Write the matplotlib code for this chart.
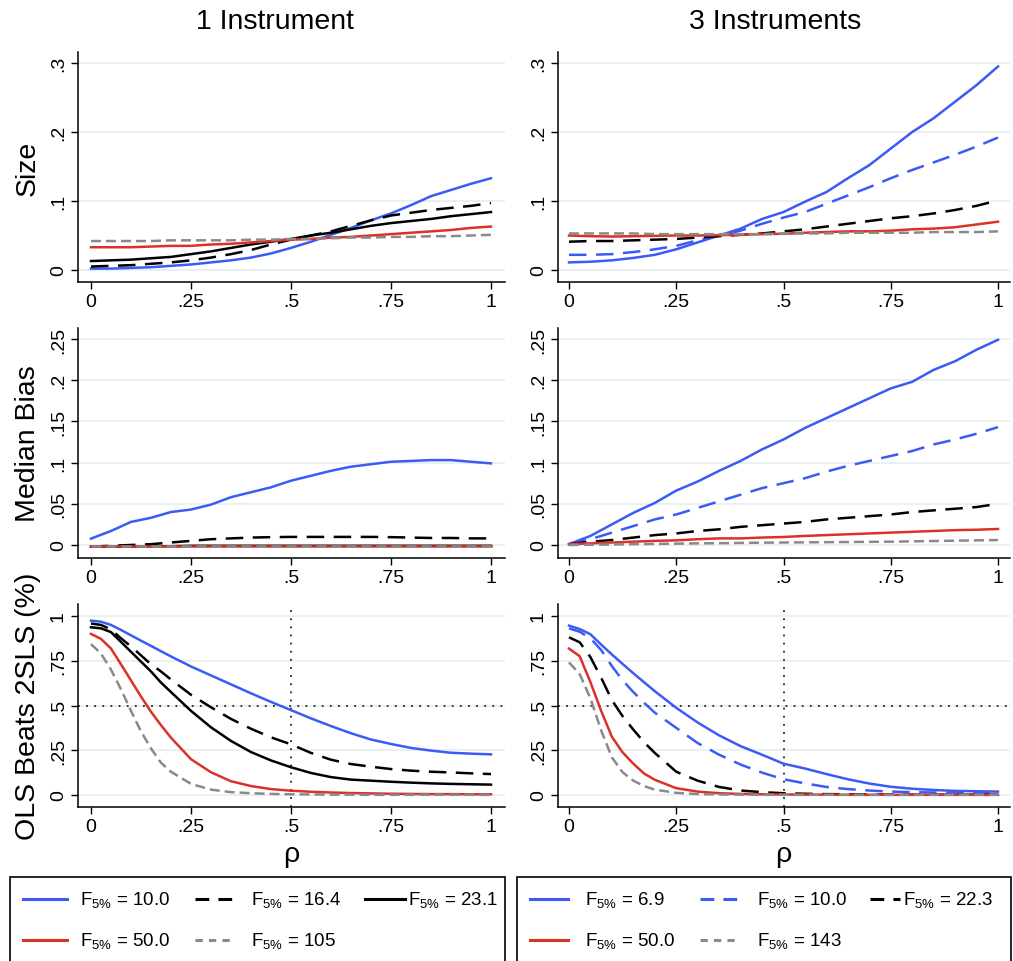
import matplotlib
matplotlib.use("Agg")
import matplotlib.pyplot as plt
from matplotlib.lines import Line2D
from matplotlib.patches import Rectangle

plt.rcParams["font.family"] = ["Liberation Sans", "DejaVu Sans"]
plt.rcParams["mathtext.fontset"] = "custom"
plt.rcParams["mathtext.rm"] = "Liberation Sans"
plt.rcParams["mathtext.it"] = "Liberation Sans:italic"

# ---- data ----
RHO = [0, .05, .1, .15, .2, .25, .3, .35, .4, .45, .5, .55, .6, .65, .7, .75, .8, .85, .9, .95, 1]
RHO_B = [0, .025, .05, .075, .1, .125, .15, .175, .2, .25, .3, .35, .4, .45, .5, .55, .6, .65, .7,
         .75, .8, .85, .9, .95, 1]

LAB_1 = ["10.0", "16.4", "23.1", "50.0", "105"]
LAB_3 = ["6.9", "10.0", "22.3", "50.0", "143"]

size1_f10 = [.002, .002, .003, .004, .006, .008, .011, .014, .018, .024, .032, .041, .051, .061, .072, .082, .094, .107, .116, .125, .133]
size1_f16 = [.005, .006, .007, .009, .011, .014, .018, .023, .029, .037, .044, .050, .056, .064, .072, .079, .083, .087, .090, .093, .097]
size1_f23 = [.013, .014, .015, .017, .019, .023, .027, .032, .037, .041, .045, .050, .054, .059, .064, .068, .071, .074, .078, .081, .084]
size1_f50 = [.033, .033, .033, .034, .035, .035, .037, .038, .040, .042, .044, .045, .047, .048, .050, .052, .054, .056, .058, .061, .063]
size1_f105 = [.042, .042, .042, .042, .043, .043, .043, .043, .044, .044, .045, .045, .046, .047, .047, .048, .048, .049, .049, .050, .051]

size3_f69 = [.011, .012, .014, .0175, .022, .030, .040, .050, .060, .074, .084, .099, .113, .133, .152, .176, .200, .220, .244, .268, .295]
size3_f10 = [.022, .022, .023, .026, .030, .035, .043, .050, .057, .067, .076, .084, .096, .108, .120, .133, .145, .156, .167, .179, .192]
size3_f22 = [.041, .042, .042, .043, .044, .045, .047, .049, .051, .053, .056, .059, .063, .067, .071, .075, .078, .082, .087, .093, .101]
size3_f50 = [.050, .049, .0485, .049, .0495, .050, .050, .0505, .051, .052, .0525, .054, .055, .056, .056, .057, .059, .060, .062, .066, .070]
size3_f143 = [.053, .053, .053, .053, .052, .052, .052, .052, .052, .052, .053, .053, .053, .054, .054, .054, .054, .055, .055, .055, .056]

bias1_f10 = [.0077, .017, .028, .033, .040, .043, .049, .058, .064, .070, .078, .084, .090, .095, .098, .101, .102, .103, .103, .101, .099]
bias1_f16 = [-.002, -.001, .000, .001, .003, .005, .007, .008, .009, .0095, .0098, .0098, .0098, .0098, .0098, .0095, .009, .0085, .0085, .008, .008]
bias1_f23 = [-.002, -.002, -.002, -.0015, -.0015, -.001, -.001, -.001, -.001, -.001, -.001, -.001, -.001, -.001, -.001, -.001, -.001, -.001, -.001, -.001, -.001]
bias1_f50 = [-.001, -.001, -.001, -.001, -.001, -.001, -.001, -.001, -.001, -.001, -.001, -.001, -.001, -.001, -.001, -.001, -.001, -.001, -.001, -.001, -.001]
bias1_f105 = [-.0008, -.0008, -.0008, -.0008, -.0008, -.0008, -.0008, -.0008, -.0008, -.0008, -.0008, -.0008, -.0008, -.0008, -.0008, -.0008, -.0008, -.0008, -.0008, -.0008, -.0008]

bias3_f69 = [.001, .011, .025, .039, .051, .066, .077, .090, .102, .116, .128, .142, .154, .166, .178, .190, .198, .2125, .223, .237, .249]
bias3_f10 = [.001, .007, .015, .023, .031, .037, .045, .053, .061, .069, .075, .081, .089, .096, .102, .108, .114, .122, .128, .135, .143]
bias3_f22 = [.001, .004, .006, .009, .012, .014, .017, .019, .022, .024, .026, .028, .031, .033, .035, .037, .040, .042, .044, .046, .050]
bias3_f50 = [.001, .002, .003, .004, .005, .0056, .007, .008, .008, .009, .0097, .011, .012, .013, .014, .015, .016, .017, .018, .0185, .0194]
bias3_f143 = [0, .0003, .0006, .001, .0013, .0016, .002, .0022, .0025, .0028, .003, .0032, .0034, .0036, .0038, .004, .0044, .0048, .0052, .0056, .006]

beat1_f10 = [.974, .968, .950, .922, .892, .862, .833, .803, .774, .718, .668, .618, .568, .520, .474, .428, .385, .345, .310, .285, .263, .248, .236, .231, .227]
beat1_f16 = [.958, .950, .925, .875, .83, .78, .73, .69, .645, .56, .49, .425, .370, .322, .283, .235, .197, .173, .158, .145, .136, .130, .126, .121, .117]
beat1_f23 = [.937, .931, .910, .855, .800, .745, .690, .628, .575, .470, .378, .302, .240, .193, .155, .123, .100, .086, .080, .074, .069, .065, .062, .060, .058]
beat1_f50 = [.900, .872, .818, .73, .64, .55, .465, .39, .32, .20, .127, .077, .050, .033, .024, .018, .014, .011, .009, .007, .006, .005, .005, .004, .004]
beat1_f105 = [.843, .79, .70, .59, .47, .355, .26, .18, .13, .062, .030, .016, .010, .006, .004, .003, .002, .002, .001, .001, .001, .001, .001, .001, .001]

beat3_f69 = [.946, .927, .898, .840, .785, .732, .680, .630, .580, .487, .405, .333, .273, .225, .175, .148, .117, .088, .064, .046, .035, .028, .023, .021, .019]
beat3_f10 = [.931, .912, .875, .81, .72, .64, .575, .515, .46, .375, .29, .225, .17, .125, .088, .065, .045, .033, .025, .019, .016, .014, .013, .012, .012]
beat3_f22 = [.881, .853, .77, .655, .53, .44, .365, .295, .235, .13, .080, .045, .025, .016, .010, .007, .005, .004, .003, .003, .002, .002, .002, .002, .002]
beat3_f50 = [.818, .775, .63, .47, .325, .238, .175, .12, .085, .038, .019, .010, .006, .004, .003, .002, .002, .001, .001, .001, .001, .001, .001, .001, .001]
beat3_f143 = [.741, .675, .54, .36, .21, .127, .08, .05, .03, .012, .005, .003, .002, .001, .001, .001, .001, .001, .001, .001, .001, .001, .001, .001, .001]

# ---- styles ----
BLUE, RED, GRAY = "#3b5bf7", "#dc3127", "#8a8a8a"
LONG, SHORT = (0, (7, 3.8)), (0, (4, 2))
STY_1 = [(BLUE, "-"), ("k", LONG), ("k", "-"), (RED, "-"), (GRAY, SHORT)]
STY_3 = [(BLUE, "-"), (BLUE, LONG), ("k", LONG), (RED, "-"), (GRAY, SHORT)]
LEG_DASH = {LONG: (0, (4.5, 3)), SHORT: (0, (2.4, 2))}   # shorter patterns for the legend keys
LW = 1.8
W, H = 1013, 962

fig = plt.figure(figsize=(W / 100, H / 100), dpi=100)

COLS = [(78, 505, 91, 400), (558, 1010, 569, 429)]   # left px, right px, px of x=0, px per unit
ROWS = [(53, 283, (-0.0174, 0.316), [0, .1, .2, .3], ["0", ".1", ".2", ".3"]),
        (329, 559, (-0.0158, 0.2633), [0, .05, .1, .15, .2, .25], ["0", ".05", ".1", ".15", ".2", ".25"]),
        (605, 808, (-0.067, 1.067), [0, .25, .5, .75, 1], ["0", ".25", ".5", ".75", "1"])]
PANELS = [[(RHO, [size1_f10, size1_f16, size1_f23, size1_f50, size1_f105]),
           (RHO, [size3_f69, size3_f10, size3_f22, size3_f50, size3_f143])],
          [(RHO, [bias1_f10, bias1_f16, bias1_f23, bias1_f50, bias1_f105]),
           (RHO, [bias3_f69, bias3_f10, bias3_f22, bias3_f50, bias3_f143])],
          [(RHO_B, [beat1_f10, beat1_f16, beat1_f23, beat1_f50, beat1_f105]),
           (RHO_B, [beat3_f69, beat3_f10, beat3_f22, beat3_f50, beat3_f143])]]
YLAB = ["Size", "Median Bias", "OLS Beats 2SLS (%)"]

for r, (top, bot, ylim, yt, ytl) in enumerate(ROWS):
    for c, (l, rr, x0, ppu) in enumerate(COLS):
        ax = fig.add_axes([l / W, 1 - bot / H, (rr - l) / W, (bot - top) / H])
        x, series = PANELS[r][c]
        for ys, (col, ls) in zip(series, STY_1 if c == 0 else STY_3):
            ax.plot(x, ys, color=col, ls=ls, lw=LW, zorder=3)
        if r == 2:
            ax.axhline(0.5, color="#222222", ls=(0, (1, 3.5)), lw=1.3, zorder=2)
            ax.axvline(0.5, color="#222222", ls=(0, (1, 3.5)), lw=1.3, zorder=2)
        ax.set_xlim(-(x0 - l) / ppu, (rr - x0) / ppu); ax.set_ylim(*ylim)
        ax.set_xticks([0, .25, .5, .75, 1]); ax.set_xticklabels(["0", ".25", ".5", ".75", "1"])
        ax.set_yticks(yt); ax.set_yticklabels(ytl, rotation=90, va="center")
        ax.tick_params(labelsize=14, length=5, width=1, pad=3)
        ax.grid(axis="y", color="#e3ecef", lw=1.1, zorder=0)
        for s in ["top", "right"]: ax.spines[s].set_visible(False)
        for s in ["left", "bottom"]: ax.spines[s].set_linewidth(1.1)
        if c == 0:
            fig.text(28 / W, 1 - (top + bot) / 2 / H, YLAB[r], rotation=90, ha="center", va="center", fontsize=20.5)
        if r == 2:
            fig.text((x0 + ppu / 2) / W, 1 - 855 / H, "ρ", ha="center", va="center", fontsize=20.5)

fig.text(275 / W, 1 - 22 / H, "1 Instrument", ha="center", va="center", fontsize=20.5)
fig.text(775 / W, 1 - 22 / H, "3 Instruments", ha="center", va="center", fontsize=20.5)

# ---- legends drawn by hand in pixel layout ----
for bx0, bx1 in [(10, 505), (517, 1011)]:
    fig.add_artist(Rectangle((bx0 / W, -0.05), (bx1 - bx0) / W, 0.05 + 1 - 878 / H, transform=fig.transFigure,
                             fill=False, lw=1.2, ec="k"))
SLOTS_1 = [(23, 67, 80, 900), (195, 235, 251, 900), (365, 405, 408, 900), (23, 67, 80, 941), (195, 235, 251, 941)]
SLOTS_3 = [(530, 568, 585, 900), (700, 738, 757, 900), (870, 900, 903, 900), (530, 568, 585, 941), (700, 738, 757, 941)]
for labs, sty, slots in [(LAB_1, STY_1, SLOTS_1), (LAB_3, STY_3, SLOTS_3)]:
    for lab, (col, ls), (a, b, tx, y) in zip(labs, sty, slots):
        fig.add_artist(Line2D([a / W, b / W], [1 - y / H] * 2, transform=fig.transFigure, color=col,
                              ls=LEG_DASH.get(ls, ls), lw=2.2))
        fig.text(tx / W, 1 - y / H, r"F$_{5\%}$ = " + lab, ha="left", va="center", fontsize=13.5)

fig.savefig("out.png", dpi=100)
